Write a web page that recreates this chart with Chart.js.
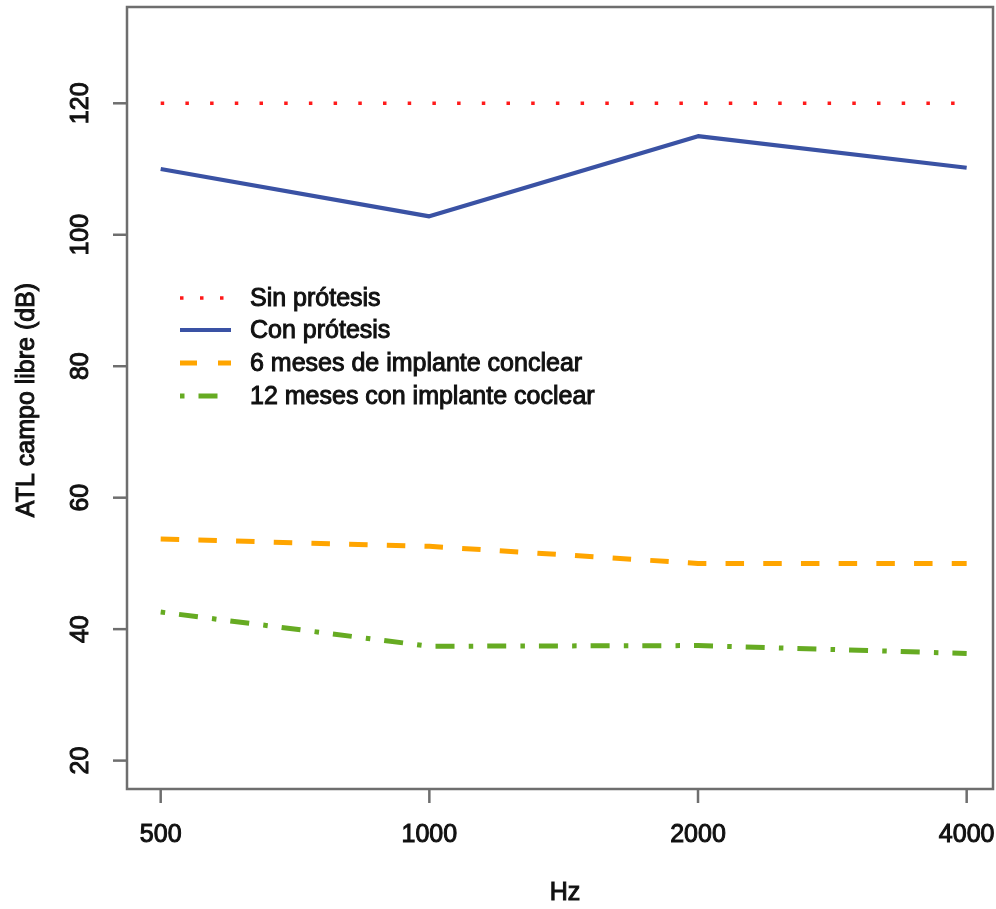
<!DOCTYPE html>
<html>
<head>
<meta charset="utf-8">
<script src="https://cdn.jsdelivr.net/npm/chart.js@4.4.1/dist/chart.umd.min.js"></script>
<style>
html,body{margin:0;padding:0;background:#fff;}
#wrap{width:996px;height:909px;}
</style>
</head>
<body>
<div id="wrap"><canvas id="c" width="996" height="909"></canvas></div>
<script>
// ---- data ----
const xLabels = ['500', '1000', '2000', '4000'];
const yTicks = [20, 40, 60, 80, 100, 120];
const seriesNames = ['Sin prótesis', 'Con prótesis', '6 meses de implante conclear', '12 meses con implante coclear'];
const sinProtesis = [120, 120, 120, 120];
const conProtesis = [110.0, 102.8, 115.0, 110.2];
const seisMeses = [53.7, 52.6, 50.0, 50.0];
const doceMeses = [42.6, 37.4, 37.5, 36.3];

const FONT = '25px "Liberation Sans", Arial, sans-serif';
const TXT = '#111111';
const AXIS = '#6e6e6e';

function pts(arr){ return arr.map((v,i)=>({x:i, y:v})); }

const styles = [
  {color:'#ff1a1a', width:3.5, dash:[3.5,21.2], legendDash:[3.5,16.5]},
  {color:'#3a52a4', width:4.2, dash:[], legendDash:[]},
  {color:'#ffa500', width:5, dash:[18.5,19.2], legendDash:[17,21]},
  {color:'#66ab22', width:5, dash:[4.5,14,19,14.2], legendDash:[4.5,14,19,14.2]}
];
const seriesData = [sinProtesis, conProtesis, seisMeses, doceMeses];

const datasets = seriesData.map((d,i)=>({
  label: seriesNames[i],
  data: pts(d),
  borderColor: styles[i].color,
  backgroundColor: styles[i].color,
  borderWidth: styles[i].width,
  borderDash: styles[i].dash,
  borderCapStyle: 'butt',
  borderJoinStyle: 'round',
  pointRadius: 0,
  tension: 0,
  fill: false
}));

function heavyText(ctx, s, x, y){
  ctx.fillText(s, x, y);
  ctx.lineWidth = 1;
  ctx.strokeStyle = TXT;
  ctx.setLineDash([]);
  ctx.strokeText(s, x, y);
}

const rAxes = {
  id: 'rAxes',
  afterDraw(chart){
    const ctx = chart.ctx;
    const a = chart.chartArea;
    const xs = chart.scales.x, ys = chart.scales.y;
    ctx.save();
    // box
    ctx.strokeStyle = AXIS;
    ctx.lineWidth = 2.5;
    ctx.setLineDash([]);
    ctx.strokeRect(a.left, a.top, a.right - a.left, a.bottom - a.top);
    ctx.fillStyle = TXT;
    ctx.font = FONT;
    // y ticks
    ys.ticks.forEach(t=>{
      const y = ys.getPixelForValue(t.value);
      ctx.strokeStyle = AXIS; ctx.lineWidth = 2.5;
      ctx.beginPath();
      ctx.moveTo(a.left - 14, y); ctx.lineTo(a.left, y);
      ctx.stroke();
      ctx.save();
      ctx.translate(81, y);
      ctx.rotate(-Math.PI/2);
      ctx.textAlign = 'center';
      ctx.textBaseline = 'middle';
      heavyText(ctx, String(t.value), 0, 0);
      ctx.restore();
    });
    // x ticks
    xs.ticks.forEach(t=>{
      const x = xs.getPixelForValue(t.value);
      ctx.strokeStyle = AXIS; ctx.lineWidth = 2.5;
      ctx.beginPath();
      ctx.moveTo(x, a.bottom); ctx.lineTo(x, a.bottom + 14);
      ctx.stroke();
      ctx.textAlign = 'center';
      ctx.textBaseline = 'middle';
      heavyText(ctx, xLabels[t.value], x, 835);
    });
    // axis titles
    ctx.textAlign = 'center';
    ctx.textBaseline = 'middle';
    heavyText(ctx, 'Hz', 565, 893);
    ctx.save();
    ctx.translate(27, 400);
    ctx.rotate(-Math.PI/2);
    heavyText(ctx, 'ATL campo libre (dB)', 0, 0);
    ctx.restore();
    // legend
    const rowY = [298, 330, 363, 396];
    chart.data.datasets.forEach((ds,i)=>{
      const y = rowY[i];
      ctx.beginPath();
      ctx.strokeStyle = ds.borderColor;
      ctx.lineWidth = ds.borderWidth;
      ctx.lineCap = 'butt';
      ctx.setLineDash(styles[i].legendDash);
      ctx.moveTo(180, y); ctx.lineTo(231, y);
      ctx.stroke();
      ctx.setLineDash([]);
      ctx.fillStyle = TXT;
      ctx.textAlign = 'left';
      ctx.textBaseline = 'middle';
      heavyText(ctx, ds.label, 250, y + 1);
    });
    ctx.restore();
  }
};

new Chart(document.getElementById('c'), {
  type: 'line',
  data: { datasets },
  options: {
    responsive: false,
    animation: false,
    devicePixelRatio: 1,
    layout: { padding: { left: 127, top: 7, right: 3, bottom: 120 } },
    plugins: { legend: { display: false }, tooltip: { enabled: false } },
    scales: {
      x: {
        type: 'linear', display: false, min: -0.1254, max: 3.098,
        afterBuildTicks(s){ s.ticks = xLabels.map((_,i)=>({value:i})); }
      },
      y: {
        type: 'linear', display: false, min: 15.68, max: 134.65,
        afterBuildTicks(s){ s.ticks = yTicks.map(v=>({value:v})); }
      }
    }
  },
  plugins: [rAxes]
});
</script>
</body>
</html>
